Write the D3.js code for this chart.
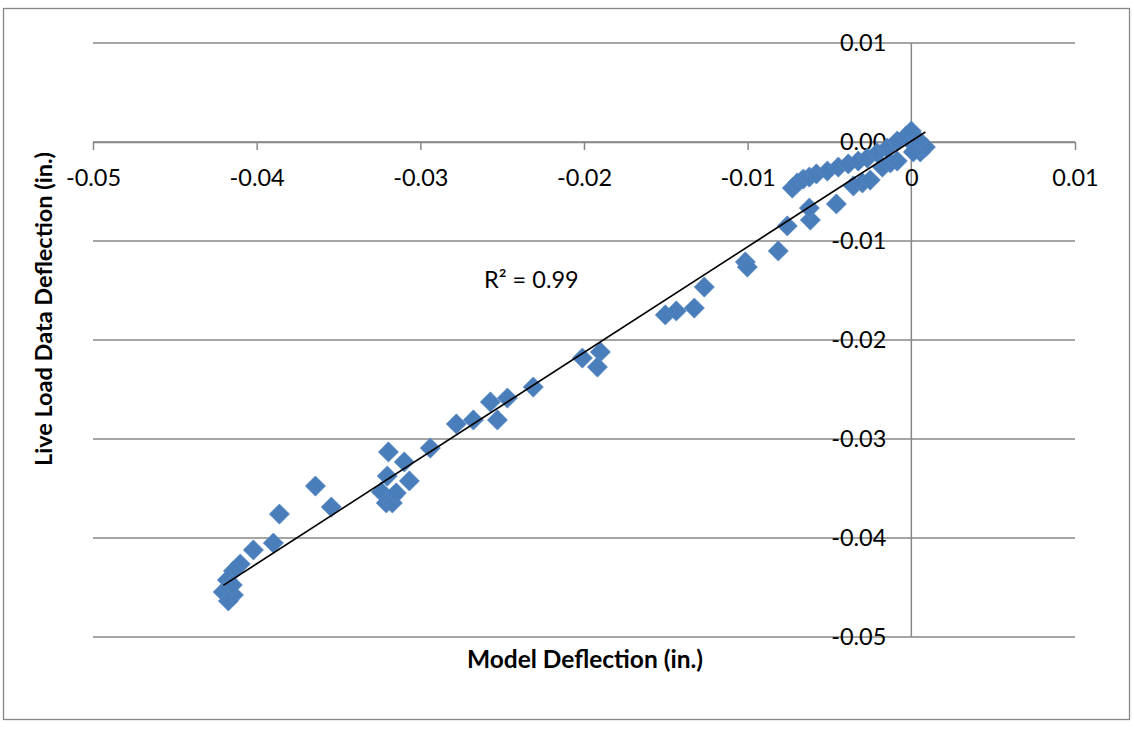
<!DOCTYPE html>
<html>
<head>
<meta charset="utf-8">
<script src="https://cdn.jsdelivr.net/npm/d3@7"></script>
<style>
  html, body { margin: 0; padding: 0; background: #fff; }
  svg { display: block; font-family: Lato, "Liberation Sans", sans-serif; }
</style>
</head>
<body>
<svg id="chart" width="1134" height="729"></svg>
<script>
// Model deflection (in.) vs. measured live-load deflection (in.)
const modelDeflection = [
  -0.03641, -0.03861, -0.03544, -0.03898, -0.04020, -0.04100, -0.04142, -0.04179,
  -0.04204, -0.04142, -0.04173, -0.04149, -0.03195, -0.03098, -0.03202, -0.03067,
  -0.03238, -0.03165, -0.03208, -0.03171, -0.03147, -0.02939, -0.02780, -0.02676,
  -0.02572, -0.02468, -0.02529, -0.02310, -0.02010, -0.01900, -0.01918, -0.01503,
  -0.01436, -0.01326, -0.01265, -0.01014, -0.01002, -0.00813, -0.00758, -0.00617,
  -0.00623, -0.00458, -0.00727, -0.00697, -0.00660, -0.00623, -0.00580, -0.00513,
  -0.00446, -0.00385, -0.00324, -0.00269, -0.00208, -0.00147, -0.00086, -0.00031,
   0.00000, -0.00354, -0.00299, -0.00251, -0.00177, -0.00128, -0.00086,  0.00024,
   0.00055,  0.00086,  0.00043,  0.00012
];
const liveLoadDeflection = [
  -0.03475, -0.03758, -0.03687, -0.04051, -0.04121, -0.04263, -0.04333, -0.04424,
  -0.04545, -0.04576, -0.04636, -0.04475, -0.03131, -0.03232, -0.03374, -0.03424,
  -0.03535, -0.03576, -0.03646, -0.03646, -0.03545, -0.03091, -0.02848, -0.02808,
  -0.02626, -0.02586, -0.02808, -0.02475, -0.02182, -0.02121, -0.02273, -0.01747,
  -0.01707, -0.01677, -0.01465, -0.01212, -0.01263, -0.01101, -0.00848, -0.00788,
  -0.00667, -0.00626, -0.00465, -0.00414, -0.00374, -0.00354, -0.00323, -0.00293,
  -0.00253, -0.00222, -0.00192, -0.00162, -0.00111, -0.00061,  0.00010,  0.00061,
   0.00111, -0.00444, -0.00414, -0.00384, -0.00253, -0.00212, -0.00192, -0.00040,
  -0.00101, -0.00051,  0.00020, -0.00101
];
const xTicks = [-0.05, -0.04, -0.03, -0.02, -0.01, 0, 0.01];
const xTickLabels = ["-0.05", "-0.04", "-0.03", "-0.02", "-0.01", "0", "0.01"];
const yTicks = [0.01, 0, -0.01, -0.02, -0.03, -0.04, -0.05];
const yTickLabels = ["0.01", "0.00", "-0.01", "-0.02", "-0.03", "-0.04", "-0.05"];
const xTitle = "Model Deflection (in.)";
const yTitle = "Live Load Data Deflection (in.)";

const points = modelDeflection.map((x, i) => ({ x, y: liveLoadDeflection[i] }));

// least-squares trendline and coefficient of determination
const mx = d3.mean(points, d => d.x), my = d3.mean(points, d => d.y);
const sxy = d3.sum(points, d => (d.x - mx) * (d.y - my));
const sxx = d3.sum(points, d => (d.x - mx) ** 2);
const syy = d3.sum(points, d => (d.y - my) ** 2);
const slope = sxy / sxx, intercept = my - slope * mx;
const r2 = (sxy * sxy) / (sxx * syy);

const svg = d3.select("#chart");
const gray = "#878787";
const blue = "#4a7ebb";

// chart frame
svg.append("rect")
  .attr("x", 3.5).attr("y", 8.5).attr("width", 1126).attr("height", 711)
  .attr("fill", "#fff").attr("stroke", gray).attr("stroke-width", 1.3);

const x = d3.scaleLinear().domain([-0.05, 0.01]).range([93, 1075]);
const y = d3.scaleLinear().domain([-0.05, 0.01]).range([637, 43]);

// horizontal gridlines
svg.append("g")
  .selectAll("line").data(yTicks).join("line")
  .attr("x1", x(-0.05)).attr("x2", x(0.01))
  .attr("y1", d => y(d)).attr("y2", d => y(d))
  .attr("stroke", gray).attr("stroke-width", 1.5);

// vertical axis through x = 0
svg.append("line")
  .attr("x1", x(0)).attr("x2", x(0)).attr("y1", y(0.01)).attr("y2", y(-0.05))
  .attr("stroke", gray).attr("stroke-width", 1.5);

// horizontal axis through y = 0, ticks pointing down
const xAxis = d3.axisBottom(x).tickValues(xTicks).tickSize(8).tickSizeOuter(0)
  .tickFormat((d, i) => xTickLabels[i]);
const gx = svg.append("g").attr("transform", `translate(0,${y(0)})`).call(xAxis);
gx.select(".domain").attr("stroke", gray).attr("stroke-width", 1.5);
gx.selectAll(".tick line").attr("stroke", gray).attr("stroke-width", 1.5);
gx.selectAll(".tick text")
  .attr("y", 36).attr("dy", "0.35em")
  .attr("fill", "#000").attr("font-size", 23.5).attr("font-family", "Lato, sans-serif");

// vertical axis labels, right-aligned next to the x = 0 axis
const yAxis = d3.axisLeft(y).tickValues(yTicks).tickSize(0).tickPadding(25)
  .tickFormat((d, i) => yTickLabels[i]);
const gy = svg.append("g").attr("transform", `translate(${x(0)},0)`).call(yAxis);
gy.select(".domain").remove();
gy.selectAll(".tick text")
  .attr("fill", "#000").attr("font-size", 23.5).attr("font-family", "Lato, sans-serif");

// data markers (diamonds)
const diamond = d3.symbol().type(d3.symbolSquare).size(205);
svg.append("g")
  .selectAll("path").data(points).join("path")
  .attr("d", diamond)
  .attr("transform", d => `translate(${x(d.x)},${y(d.y)}) rotate(45)`)
  .attr("fill", blue).attr("stroke", "#5b8cc8").attr("stroke-width", 0.6);

// linear trendline over the data extent
const [x0, x1] = d3.extent(points, d => d.x);
svg.append("line")
  .attr("x1", x(x0)).attr("y1", y(slope * x0 + intercept))
  .attr("x2", x(x1)).attr("y2", y(slope * x1 + intercept))
  .attr("stroke", "#000").attr("stroke-width", 1.6);

// R² annotation
const r2Text = svg.append("text")
  .attr("x", 484).attr("y", 288)
  .attr("font-size", 23.5).attr("fill", "#000");
r2Text.append("tspan").text("R");
r2Text.append("tspan").text("²");
r2Text.append("tspan").text(" = " + r2.toFixed(2));

// axis titles
svg.append("text")
  .attr("x", 585).attr("y", 668)
  .attr("text-anchor", "middle")
  .attr("font-size", 24.5).attr("font-weight", "bold").attr("fill", "#000")
  .text(xTitle);

svg.append("text")
  .attr("transform", "translate(52,309) rotate(-90)")
  .attr("text-anchor", "middle")
  .attr("font-size", 23.5).attr("font-weight", "bold").attr("fill", "#000")
  .text(yTitle);
</script>
</body>
</html>
